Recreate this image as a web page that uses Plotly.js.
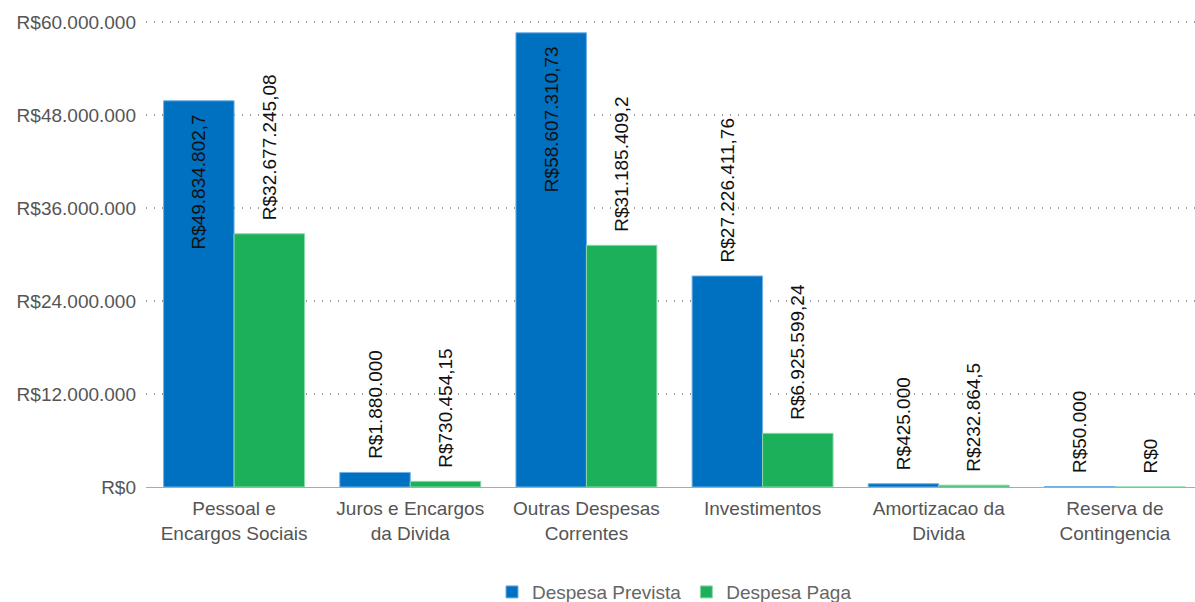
<!DOCTYPE html>
<html>
<head>
<meta charset="utf-8">
<script src="https://cdn.plot.ly/plotly-3.0.1.min.js"></script>
<style>
html,body{margin:0;padding:0;overflow:hidden;background:#fff;}
#chart{width:1210px;height:602px;}
</style>
</head>
<body>
<div id="chart"></div>
<script>
const categories = [
  "Pessoal e<br>Encargos Sociais",
  "Juros e Encargos<br>da Divida",
  "Outras Despesas<br>Correntes",
  "Investimentos",
  "Amortizacao da<br>Divida",
  "Reserva de<br>Contingencia"
];
const despesaPrevista = [49834802.7, 1880000, 58607310.73, 27226411.76, 425000, 50000];
const despesaPaga = [32677245.08, 730454.15, 31185409.2, 6925599.24, 232864.5, 0];
const yTickVals = [0, 12000000, 24000000, 36000000, 48000000, 60000000];
const yTickText = ["R$0", "R$12.000.000", "R$24.000.000", "R$36.000.000", "R$48.000.000", "R$60.000.000"];
const previstaPositions = ["inside", "outside", "inside", "outside", "outside", "outside"];
const pagaPositions = ["outside", "outside", "outside", "outside", "outside", "outside"];

function fmtBRL(v) {
  const s = String(v);
  const parts = s.split(".");
  const intPart = parts[0].replace(/\B(?=(\d{3})+(?!\d))/g, ".");
  return "R$" + intPart + (parts[1] ? "," + parts[1] : "");
}
const NB = "\u00a0\u00a0";
function labels(vals, pos) {
  return vals.map((v, i) => pos[i] === "inside" ? fmtBRL(v) + NB : NB + fmtBRL(v));
}

const font = "Liberation Sans, Arial, sans-serif";

const traces = [
  {
    type: "bar",
    name: "Despesa Prevista",
    x: categories,
    y: despesaPrevista,
    text: labels(despesaPrevista, previstaPositions),
    textposition: previstaPositions,
    insidetextanchor: "end",
    textangle: -90,
    constraintext: "none",
    cliponaxis: false,
    textfont: {family: font, size: 19, color: "#111"},
    insidetextfont: {family: font, size: 19, color: "#111"},
    outsidetextfont: {family: font, size: 19, color: "#111"},
    marker: {color: "#0070c0", line: {color: "#6fb0e6", width: 1}},
    hoverinfo: "none"
  },
  {
    type: "bar",
    name: "Despesa Paga",
    x: categories,
    y: despesaPaga,
    text: labels(despesaPaga, pagaPositions),
    textposition: pagaPositions,
    insidetextanchor: "end",
    textangle: -90,
    constraintext: "none",
    cliponaxis: false,
    textfont: {family: font, size: 19, color: "#111"},
    insidetextfont: {family: font, size: 19, color: "#111"},
    outsidetextfont: {family: font, size: 19, color: "#111"},
    marker: {color: "#1db05a", line: {color: "#8ad9a8", width: 1}},
    hoverinfo: "none"
  }
];

const layout = {
  width: 1210,
  height: 602,
  margin: {l: 146, r: 7, t: 20, b: 115, autoexpand: false},
  paper_bgcolor: "#fff",
  plot_bgcolor: "#fff",
  font: {family: font, size: 19, color: "#555"},
  barmode: "group",
  bargap: 0.2,
  bargroupgap: 0,
  showlegend: true,
  legend: {
    orientation: "h",
    x: 0.5, xanchor: "center",
    y: -0.225, yanchor: "middle",
    font: {family: font, size: 19, color: "#666"}
  },
  xaxis: {
    type: "category",
    showgrid: false,
    showline: true,
    linecolor: "#aaa",
    linewidth: 1,
    ticks: "",
    ticklabelstandoff: 4,
    tickfont: {family: font, size: 19, color: "#555"},
    automargin: false
  },
  yaxis: {
    range: [0, 60260000],
    tickvals: yTickVals,
    ticktext: yTickText,
    showgrid: true,
    gridcolor: "#999",
    griddash: "1px,7px",
    gridwidth: 1.5,
    zeroline: false,
    showline: false,
    ticks: "",
    ticklabelstandoff: 9,
    tickfont: {family: font, size: 19, color: "#555"},
    automargin: false
  }
};

Plotly.newPlot("chart", traces, layout, {displayModeBar: false, staticPlot: true});
</script>
</body>
</html>
